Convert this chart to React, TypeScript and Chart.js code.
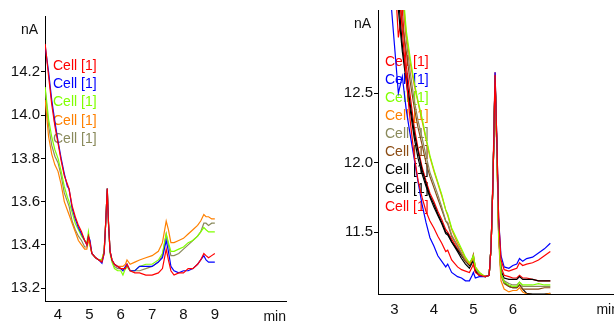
import React, { useEffect, useRef } from 'react';
import { Chart, registerables } from 'chart.js';
Chart.register(...registerables);

const FONT = '"Liberation Sans", Arial, sans-serif';

// ---------- Left panel data ----------
const leftX = [3.59, 3.7, 3.8, 3.9, 4.0, 4.1, 4.2, 4.3, 4.35, 4.45, 4.55, 4.65, 4.75, 4.85, 4.92, 4.97, 5.02, 5.08, 5.2, 5.3, 5.4, 5.47, 5.52, 5.57, 5.61, 5.66, 5.72, 5.8, 5.9, 6.0, 6.07, 6.15, 6.2, 6.3, 6.45, 6.6, 6.8, 7.0, 7.2, 7.33, 7.45, 7.52, 7.6, 7.7, 7.85, 8.0, 8.15, 8.3, 8.45, 8.55, 8.65, 8.72, 8.8, 8.9, 9.0];
const leftRed = [14.33, 14.18, 14.05, 13.95, 13.87, 13.79, 13.72, 13.68, 13.66, 13.58, 13.53, 13.49, 13.46, 13.42, 13.40, 13.44, 13.41, 13.36, 13.34, 13.33, 13.32, 13.36, 13.5, 13.66, 13.5, 13.37, 13.33, 13.31, 13.3, 13.29, 13.29, 13.29, 13.31, 13.28, 13.27, 13.27, 13.26, 13.26, 13.27, 13.29, 13.38, 13.33, 13.28, 13.26, 13.27, 13.27, 13.29, 13.29, 13.31, 13.33, 13.36, 13.35, 13.34, 13.35, 13.36];
const leftBlue = [14.32, 14.2, 14.07, 13.97, 13.88, 13.8, 13.73, 13.67, 13.66, 13.57, 13.52, 13.48, 13.45, 13.42, 13.40, 13.44, 13.42, 13.36, 13.34, 13.33, 13.315, 13.36, 13.5, 13.66, 13.5, 13.37, 13.33, 13.31, 13.3, 13.29, 13.28, 13.3, 13.31, 13.28, 13.28, 13.3, 13.3, 13.3, 13.32, 13.34, 13.42, 13.37, 13.3, 13.28, 13.27, 13.28, 13.28, 13.29, 13.31, 13.33, 13.35, 13.33, 13.32, 13.32, 13.32];
const leftGreen = [14.13, 13.98, 13.9, 13.84, 13.8, 13.74, 13.67, 13.62, 13.6, 13.55, 13.5, 13.47, 13.44, 13.42, 13.41, 13.46, 13.4, 13.36, 13.34, 13.33, 13.33, 13.37, 13.5, 13.66, 13.5, 13.36, 13.32, 13.29, 13.28, 13.28, 13.26, 13.29, 13.3, 13.28, 13.28, 13.3, 13.31, 13.31, 13.33, 13.36, 13.45, 13.41, 13.37, 13.37, 13.38, 13.39, 13.41, 13.42, 13.44, 13.46, 13.48, 13.47, 13.46, 13.46, 13.46];
const leftOrange = [14.07, 13.9, 13.82, 13.77, 13.74, 13.68, 13.6, 13.56, 13.54, 13.5, 13.46, 13.42, 13.4, 13.38, 13.38, 13.42, 13.4, 13.36, 13.34, 13.33, 13.33, 13.37, 13.5, 13.65, 13.5, 13.37, 13.33, 13.31, 13.3, 13.3, 13.3, 13.31, 13.33, 13.31, 13.32, 13.33, 13.34, 13.35, 13.37, 13.41, 13.51, 13.47, 13.41, 13.41, 13.42, 13.43, 13.45, 13.47, 13.49, 13.51, 13.54, 13.53, 13.53, 13.52, 13.52];
const leftOlive = [14.12, 13.95, 13.86, 13.81, 13.78, 13.72, 13.64, 13.6, 13.58, 13.51, 13.47, 13.44, 13.42, 13.39, 13.39, 13.43, 13.4, 13.36, 13.34, 13.33, 13.33, 13.37, 13.5, 13.66, 13.5, 13.37, 13.33, 13.3, 13.29, 13.29, 13.29, 13.29, 13.3, 13.28, 13.28, 13.28, 13.29, 13.3, 13.32, 13.35, 13.45, 13.4, 13.35, 13.35, 13.36, 13.38, 13.4, 13.42, 13.44, 13.46, 13.5, 13.5, 13.49, 13.5, 13.5];
const leftXTicks = [4, 5, 6, 7, 8, 9];
const leftYTicks = [13.2, 13.4, 13.6, 13.8, 14.0, 14.2];

// ---------- Right panel data ----------
const rightX = [2.9, 3.0, 3.1, 3.2, 3.3, 3.4, 3.5, 3.6, 3.7, 3.8, 3.9, 4.0, 4.1, 4.2, 4.3, 4.35, 4.45, 4.6, 4.7, 4.8, 4.9, 4.97, 5.0, 5.05, 5.15, 5.3, 5.4, 5.45, 5.5, 5.55, 5.6, 5.64, 5.7, 5.78, 5.9, 6.0, 6.1, 6.17, 6.25, 6.35, 6.5, 6.65, 6.8, 6.95];
const rightRed1 = [13.4, 13.4, 13.3, 12.95, 12.6, 12.3, 12.05, 11.87, 11.75, 11.65, 11.58, 11.53, 11.47, 11.42, 11.36, 11.37, 11.3, 11.25, 11.23, 11.22, 11.21, 11.25, 11.27, 11.21, 11.19, 11.18, 11.19, 11.4, 11.9, 12.63, 12.1, 11.6, 11.3, 11.23, 11.22, 11.23, 11.24, 11.28, 11.26, 11.27, 11.28, 11.3, 11.33, 11.36];
const rightBlue = [13.2, 12.85, 12.5, 12.62, 12.38, 12.2, 12.03, 11.86, 11.7, 11.57, 11.46, 11.4, 11.33, 11.29, 11.25, 11.27, 11.21, 11.18, 11.17, 11.15, 11.15, 11.19, 11.21, 11.17, 11.18, 11.18, 11.19, 11.4, 11.9, 12.65, 12.1, 11.6, 11.33, 11.25, 11.24, 11.26, 11.27, 11.31, 11.29, 11.31, 11.32, 11.35, 11.38, 11.42];
const rightGreen = [13.4, 13.4, 13.4, 13.3, 12.95, 12.75, 12.58, 12.44, 12.32, 12.18, 12.05, 11.95, 11.86, 11.77, 11.66, 11.63, 11.53, 11.44, 11.38, 11.32, 11.28, 11.31, 11.33, 11.25, 11.21, 11.18, 11.19, 11.4, 11.9, 12.62, 12.05, 11.5, 11.2, 11.14, 11.12, 11.11, 11.11, 11.14, 11.12, 11.12, 11.12, 11.13, 11.12, 11.12];
const rightOrange = [13.4, 13.4, 13.4, 13.25, 12.92, 12.72, 12.56, 12.43, 12.3, 12.17, 12.04, 11.94, 11.85, 11.76, 11.66, 11.62, 11.52, 11.42, 11.37, 11.31, 11.27, 11.3, 11.33, 11.25, 11.21, 11.18, 11.19, 11.4, 11.9, 12.6, 12.0, 11.45, 11.15, 11.09, 11.07, 11.08, 11.08, 11.1, 11.07, 11.055, 11.05, 11.05, 11.05, 11.06];
const rightOlive = [13.4, 13.4, 13.4, 13.2, 12.88, 12.65, 12.45, 12.3, 12.18, 12.05, 11.93, 11.85, 11.77, 11.68, 11.58, 11.57, 11.48, 11.4, 11.35, 11.3, 11.27, 11.3, 11.32, 11.24, 11.2, 11.18, 11.19, 11.4, 11.9, 12.62, 12.05, 11.5, 11.2, 11.15, 11.13, 11.12, 11.12, 11.14, 11.11, 11.11, 11.11, 11.11, 11.11, 11.11];
const rightBrown = [13.4, 13.4, 13.3, 13.0, 12.8, 12.58, 12.4, 12.25, 12.13, 12.0, 11.9, 11.82, 11.74, 11.66, 11.58, 11.56, 11.47, 11.4, 11.34, 11.29, 11.27, 11.31, 11.34, 11.24, 11.2, 11.18, 11.19, 11.4, 11.9, 12.62, 12.05, 11.5, 11.19, 11.13, 11.11, 11.1, 11.1, 11.12, 11.09, 11.09, 11.09, 11.09, 11.1, 11.1];
const rightBlack1 = [13.4, 13.4, 13.2, 12.85, 12.62, 12.42, 12.22, 12.08, 11.95, 11.85, 11.76, 11.7, 11.63, 11.57, 11.5, 11.49, 11.43, 11.36, 11.31, 11.27, 11.24, 11.28, 11.29, 11.22, 11.19, 11.18, 11.19, 11.4, 11.9, 12.6, 12.05, 11.5, 11.2, 11.14, 11.11, 11.1, 11.1, 11.12, 11.09, 11.06, 11.055, 11.055, 11.055, 11.06];
const rightBlack2 = [13.4, 13.4, 13.1, 12.8, 12.58, 12.38, 12.18, 12.03, 11.92, 11.83, 11.75, 11.68, 11.62, 11.56, 11.49, 11.48, 11.43, 11.37, 11.33, 11.29, 11.26, 11.29, 11.3, 11.22, 11.19, 11.18, 11.19, 11.4, 11.9, 12.61, 12.05, 11.55, 11.22, 11.17, 11.16, 11.16, 11.16, 11.18, 11.16, 11.16, 11.16, 11.15, 11.15, 11.15];
const rightRed2 = [13.4, 13.4, 12.9, 13.1, 12.7, 12.48, 12.26, 12.1, 11.97, 11.87, 11.78, 11.72, 11.65, 11.59, 11.52, 11.5, 11.45, 11.38, 11.34, 11.3, 11.27, 11.3, 11.31, 11.22, 11.19, 11.18, 11.19, 11.4, 11.95, 12.65, 12.1, 11.6, 11.25, 11.19, 11.18, 11.17, 11.17, 11.19, 11.17, 11.17, 11.16, 11.15, 11.15, 11.15];
const rightXTicks = [3, 4, 5, 6];
const rightYTicks = [11.5, 12.0, 12.5];

const seriesLabel = 'Cell [1]';
const RED = '#ff0000';
const BLUE = '#0000ff';
const GREEN = '#80ff00';
const ORANGE = '#ff8000';
const OLIVE = '#8a8a5c';
const BROWN = '#8b4c14';
const BLACK = '#000000';

function mk(xs: number[], ys: number[], color: string) {
  return {
    label: seriesLabel,
    data: xs.map((x, i) => ({ x, y: ys[i] })),
    borderColor: color,
    backgroundColor: color,
    borderWidth: 1.2,
    pointRadius: 0,
    tension: 0,
    fill: false,
  };
}

function overlayPlugin(legendDx: number, legendDy: number, step: number) {
  return {
    id: 'overlay',
    beforeDatasetsDraw(chart: any) {
      const { ctx, chartArea } = chart;
      ctx.save();
      ctx.font = `14px ${FONT}`;
      ctx.textBaseline = 'middle';
      ctx.textAlign = 'left';
      chart.data.datasets.forEach((ds: any, i: number) => {
        ctx.fillStyle = ds.borderColor;
        ctx.fillText(ds.label, chartArea.left + legendDx, chartArea.top + legendDy + i * step);
      });
      ctx.restore();
    },
    afterDraw(chart: any) {
      const { ctx, chartArea } = chart;
      ctx.save();
      ctx.font = `14px ${FONT}`;
      ctx.fillStyle = '#111';
      ctx.textBaseline = 'middle';
      ctx.textAlign = 'right';
      ctx.fillText('nA', chartArea.left - 7, chartArea.top + 14);
      ctx.fillText('min', chartArea.right, chartArea.bottom + 16);
      ctx.restore();
    },
  };
}

function makeOptions(p: {
  xMin: number; xMax: number; yMin: number; yMax: number;
  xTicks: number[]; yTicks: number[]; yWidth: number; xHeight: number;
  padTop: number; padRight: number; xPad: number;
}) {
  return {
    responsive: false,
    animation: false as const,
    events: [],
    layout: { padding: { top: p.padTop, right: p.padRight, left: 0, bottom: 0 } },
    plugins: { legend: { display: false }, tooltip: { enabled: false }, title: { display: false } },
    scales: {
      x: {
        type: 'linear' as const,
        min: p.xMin,
        max: p.xMax,
        afterBuildTicks: (s: any) => { s.ticks = p.xTicks.map((v) => ({ value: v })); },
        afterFit: (s: any) => { s.height = p.xHeight; },
        grid: { display: true, drawOnChartArea: false, drawTicks: false },
        border: { display: true, color: '#000', width: 1 },
        ticks: {
          autoSkip: false, maxRotation: 0, padding: p.xPad, color: '#111',
          font: { family: FONT, size: 15 },
          callback: (v: any) => String(v),
        },
      },
      y: {
        type: 'linear' as const,
        min: p.yMin,
        max: p.yMax,
        afterBuildTicks: (s: any) => { s.ticks = p.yTicks.map((v) => ({ value: v })); },
        afterFit: (s: any) => { s.width = p.yWidth; },
        grid: { display: true, drawOnChartArea: false, drawTicks: true, tickLength: 4, color: '#000' },
        border: { display: true, color: '#000', width: 1 },
        ticks: {
          autoSkip: false, padding: 1, color: '#111',
          font: { family: FONT, size: 15 },
          callback: (v: any) => Number(v).toFixed(1),
        },
      },
    },
  };
}

export default function App() {
  const leftRef = useRef<HTMLCanvasElement>(null);
  const rightRef = useRef<HTMLCanvasElement>(null);

  useEffect(() => {
    const left = new Chart(leftRef.current as HTMLCanvasElement, {
      type: 'line',
      data: {
        datasets: [
          mk(leftX, leftRed, RED),
          mk(leftX, leftBlue, BLUE),
          mk(leftX, leftGreen, GREEN),
          mk(leftX, leftOrange, ORANGE),
          mk(leftX, leftOlive, OLIVE),
        ],
      },
      options: makeOptions({
        xMin: 3.585, xMax: 11.27, yMin: 13.14, yMax: 14.459,
        xTicks: leftXTicks, yTicks: leftYTicks, yWidth: 45, xHeight: 22,
        padTop: 16, padRight: 14, xPad: 5,
      }) as any,
      plugins: [overlayPlugin(8, 50, 18.3)],
    });
    const right = new Chart(rightRef.current as HTMLCanvasElement, {
      type: 'line',
      data: {
        datasets: [
          mk(rightX, rightRed1, RED),
          mk(rightX, rightBlue, BLUE),
          mk(rightX, rightGreen, GREEN),
          mk(rightX, rightOrange, ORANGE),
          mk(rightX, rightOlive, OLIVE),
          mk(rightX, rightBrown, BROWN),
          mk(rightX, rightBlack1, BLACK),
          mk(rightX, rightBlack2, BLACK),
          mk(rightX, rightRed2, RED),
        ],
      },
      options: makeOptions({
        xMin: 2.584, xMax: 8.69, yMin: 11.055, yMax: 13.098,
        xTicks: rightXTicks, yTicks: rightYTicks, yWidth: 68, xHeight: 29,
        padTop: 8, padRight: 11, xPad: 7,
      }) as any,
      plugins: [overlayPlugin(7, 52, 18.1)],
    });
    return () => { left.destroy(); right.destroy(); };
  }, []);

  return (
    <div style={{ position: 'absolute', left: 0, top: 0, width: 614, height: 323, overflow: 'hidden', background: '#fff' }}>
      <div style={{ position: 'absolute', left: 0, top: 0, width: 300, height: 323 }}>
        <canvas ref={leftRef} width={300} height={323} style={{ width: 300, height: 323, display: 'block' }} />
      </div>
      <div style={{ position: 'absolute', left: 310, top: 0, width: 320, height: 323 }}>
        <canvas ref={rightRef} width={320} height={323} style={{ width: 320, height: 323, display: 'block' }} />
      </div>
    </div>
  );
}
